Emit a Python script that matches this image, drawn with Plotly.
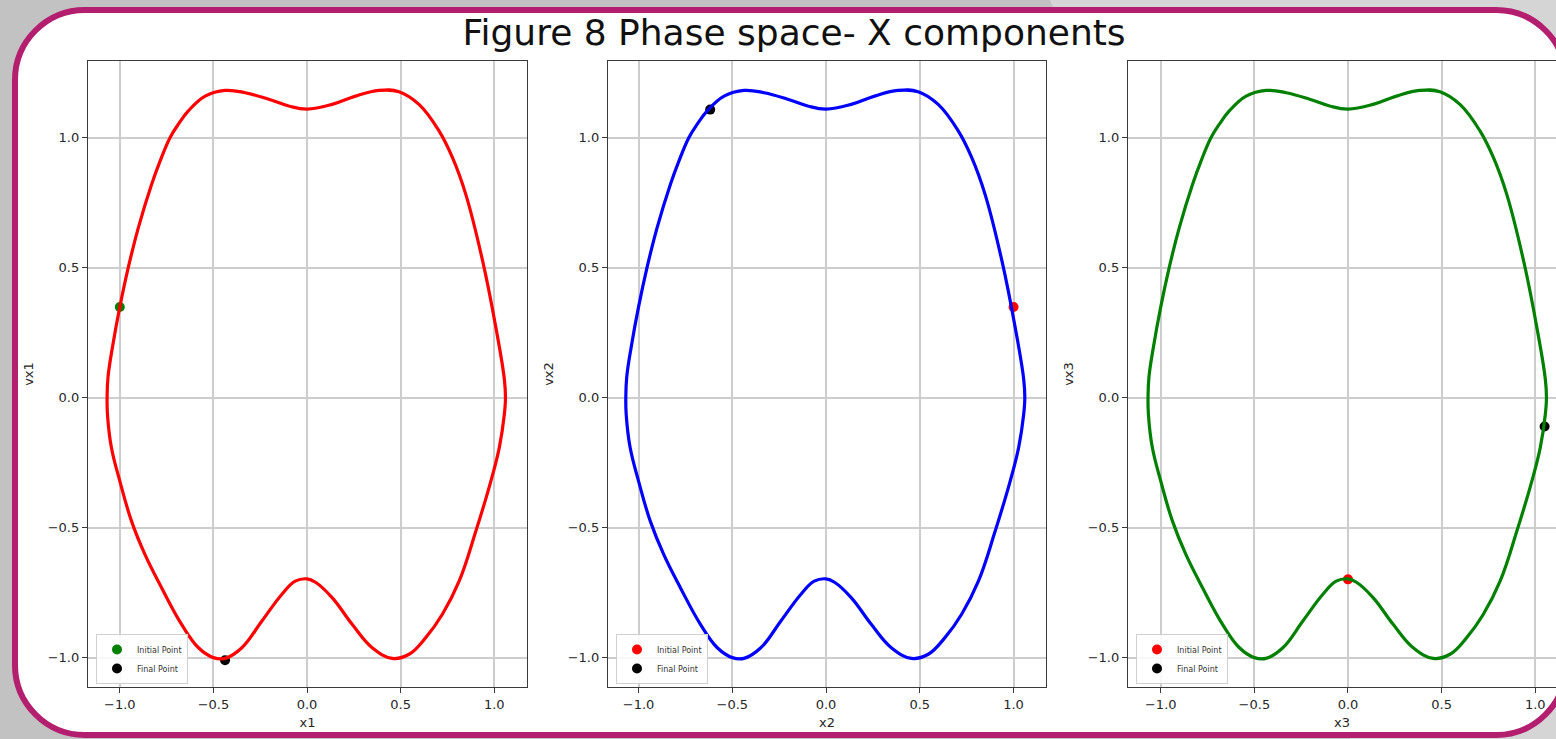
import plotly.graph_objects as go

W, H = 1556, 739

# Phase-space loop (x, vx) shared by the three bodies of the figure-eight orbit
orbit_x = [
    -1.068, -1.063, -1.038, -1.000, -0.955, -0.901, -0.830, -0.785, -0.732, -0.687,
    -0.634, -0.544, -0.437, -0.330, -0.205, -0.098, 0.000, 0.134, 0.259, 0.384,
    0.491, 0.598, 0.705, 0.777, 0.848, 0.938, 1.009, 1.054, 1.060, 1.054,
    1.027, 0.982, 0.902, 0.813, 0.723, 0.634, 0.545, 0.455, 0.348, 0.241,
    0.134, 0.045, 0.000, -0.063, -0.134, -0.241, -0.348, -0.438, -0.500, -0.580,
    -0.670, -0.777, -0.866, -0.938, -1.000, -1.045, -1.066, -1.068,
]
orbit_vx = [
    0.000, 0.080, 0.200, 0.349, 0.500, 0.654, 0.821, 0.910, 1.000, 1.052,
    1.103, 1.160, 1.182, 1.173, 1.148, 1.122, 1.110, 1.128, 1.160, 1.182,
    1.177, 1.128, 1.026, 0.923, 0.782, 0.526, 0.269, 0.071, 0.000, -0.064,
    -0.192, -0.321, -0.513, -0.705, -0.833, -0.923, -0.987, -1.003, -0.962, -0.872,
    -0.769, -0.710, -0.697, -0.706, -0.756, -0.859, -0.962, -1.003, -1.000, -0.962,
    -0.872, -0.731, -0.603, -0.474, -0.321, -0.192, -0.064, 0.000,
]

bodies = ["1", "2", "3"]
line_colors = ["#ff0000", "#0000ff", "#008000"]
initial_colors = ["#008000", "#ff0000", "#ff0000"]
final_color = "#000000"
initial_x = [-1.000, 1.000, 0.000]
initial_vx = [0.349, 0.349, -0.699]
final_x = [-0.438, -0.618, 1.050]
final_vx = [-1.010, 1.108, -0.111]

tick_vals = [-1.0, -0.5, 0.0, 0.5, 1.0]

# Subplot geometry in page pixels
panel_left = [88, 608, 1128]
panel_right = [527, 1046, 1556]
panel_top, panel_bottom = 61, 687
x_ranges = [[-1.17, 1.175], [-1.163, 1.173], [-1.175, 1.111]]
y_range = [-1.113, 1.295]

FONT = "DejaVu Sans"


def pp(x, y):
    return f"{x / W:.5f},{1 - y / H:.5f}"


def rounded_rect(l, t, r, b, rad):
    k = 0.5523 * rad
    return (
        f"M {pp(l + rad, t)} L {pp(r - rad, t)} "
        f"C {pp(r - rad + k, t)} {pp(r, t + rad - k)} {pp(r, t + rad)} "
        f"L {pp(r, b - rad)} "
        f"C {pp(r, b - rad + k)} {pp(r - rad + k, b)} {pp(r - rad, b)} "
        f"L {pp(l + rad, b)} "
        f"C {pp(l + rad - k, b)} {pp(l, b - rad + k)} {pp(l, b - rad)} "
        f"L {pp(l, t + rad)} "
        f"C {pp(l, t + rad - k)} {pp(l + rad - k, t)} {pp(l + rad, t)} Z"
    )


fig = go.Figure()

for i, b in enumerate(bodies):
    xa = "x" if i == 0 else f"x{i + 1}"
    ya = "y" if i == 0 else f"y{i + 1}"
    lg = "legend" if i == 0 else f"legend{i + 1}"
    fig.add_trace(go.Scatter(
        x=[initial_x[i]], y=[initial_vx[i]], mode="markers", name="Initial Point",
        marker=dict(color=initial_colors[i], size=10), xaxis=xa, yaxis=ya, legend=lg,
    ))
    fig.add_trace(go.Scatter(
        x=[final_x[i]], y=[final_vx[i]], mode="markers", name="Final Point",
        marker=dict(color=final_color, size=10), xaxis=xa, yaxis=ya, legend=lg,
    ))
    fig.add_trace(go.Scatter(
        x=orbit_x, y=orbit_vx, mode="lines", showlegend=False,
        line=dict(color=line_colors[i], width=3.2, shape="spline", smoothing=1.15),
        xaxis=xa, yaxis=ya, hoverinfo="skip",
    ))

layout = dict(
    width=W, height=H,
    margin=dict(l=0, r=0, t=0, b=0),
    paper_bgcolor="#c2c2c2",
    plot_bgcolor="rgba(0,0,0,0)",
    showlegend=True,
    title=dict(
        text="Figure 8 Phase space- X components",
        x=794 / W, xanchor="center", y=1 - 32 / H, yanchor="middle",
        font=dict(family=FONT, size=36, color="#111111"),
    ),
    font=dict(family=FONT, color="#262626"),
)

for i, b in enumerate(bodies):
    suffix = "" if i == 0 else str(i + 1)
    common = dict(
        showline=True, linecolor="#3a3a3a", linewidth=1.3,
        ticks="outside", ticklen=5, tickwidth=1.2, tickcolor="#3a3a3a",
        showgrid=True, gridcolor="#cdcdcd", gridwidth=1.5, zeroline=False,
        tickfont=dict(family=FONT, size=13, color="#262626"),
        tickvals=tick_vals, tickformat=".1f", automargin=False,
    )
    layout[f"xaxis{suffix}"] = dict(
        common, domain=[panel_left[i] / W, panel_right[i] / W],
        range=x_ranges[i], mirror=True, anchor=f"y{suffix}",
        title=dict(text=f"x{b}", font=dict(family=FONT, size=13, color="#262626"), standoff=7),
    )
    layout[f"yaxis{suffix}"] = dict(
        common, domain=[1 - panel_bottom / H, 1 - panel_top / H],
        range=y_range, mirror=(i < 2), anchor=f"x{suffix}",
        title=dict(text=f"vx{b}", font=dict(family=FONT, size=13, color="#262626"), standoff=11),
    )
    layout["legend" + suffix] = dict(
        x=(panel_left[i] + 8) / W, y=1 - (panel_bottom - 3) / H,
        xanchor="left", yanchor="bottom",
        bgcolor="rgba(255,255,255,0.85)", bordercolor="#d0d0d0", borderwidth=1,
        font=dict(family=FONT, size=8, color="#333333"),
        itemwidth=30, tracegroupgap=0,
    )

layout["shapes"] = [
    dict(type="path", xref="paper", yref="paper", layer="below",
         path=f"M {pp(1050, 0)} L {pp(W, 0)} L {pp(W, H)} L {pp(1350, H)} Z",
         fillcolor="#d5d5d5", line=dict(width=0)),
    dict(type="path", xref="paper", yref="paper", layer="below",
         path=rounded_rect(15, 10, 1566, 735, 70),
         fillcolor="#ffffff", line=dict(color="#b41e6e", width=6)),
]

fig.update_layout(**layout)
fig.write_html("out.html")
